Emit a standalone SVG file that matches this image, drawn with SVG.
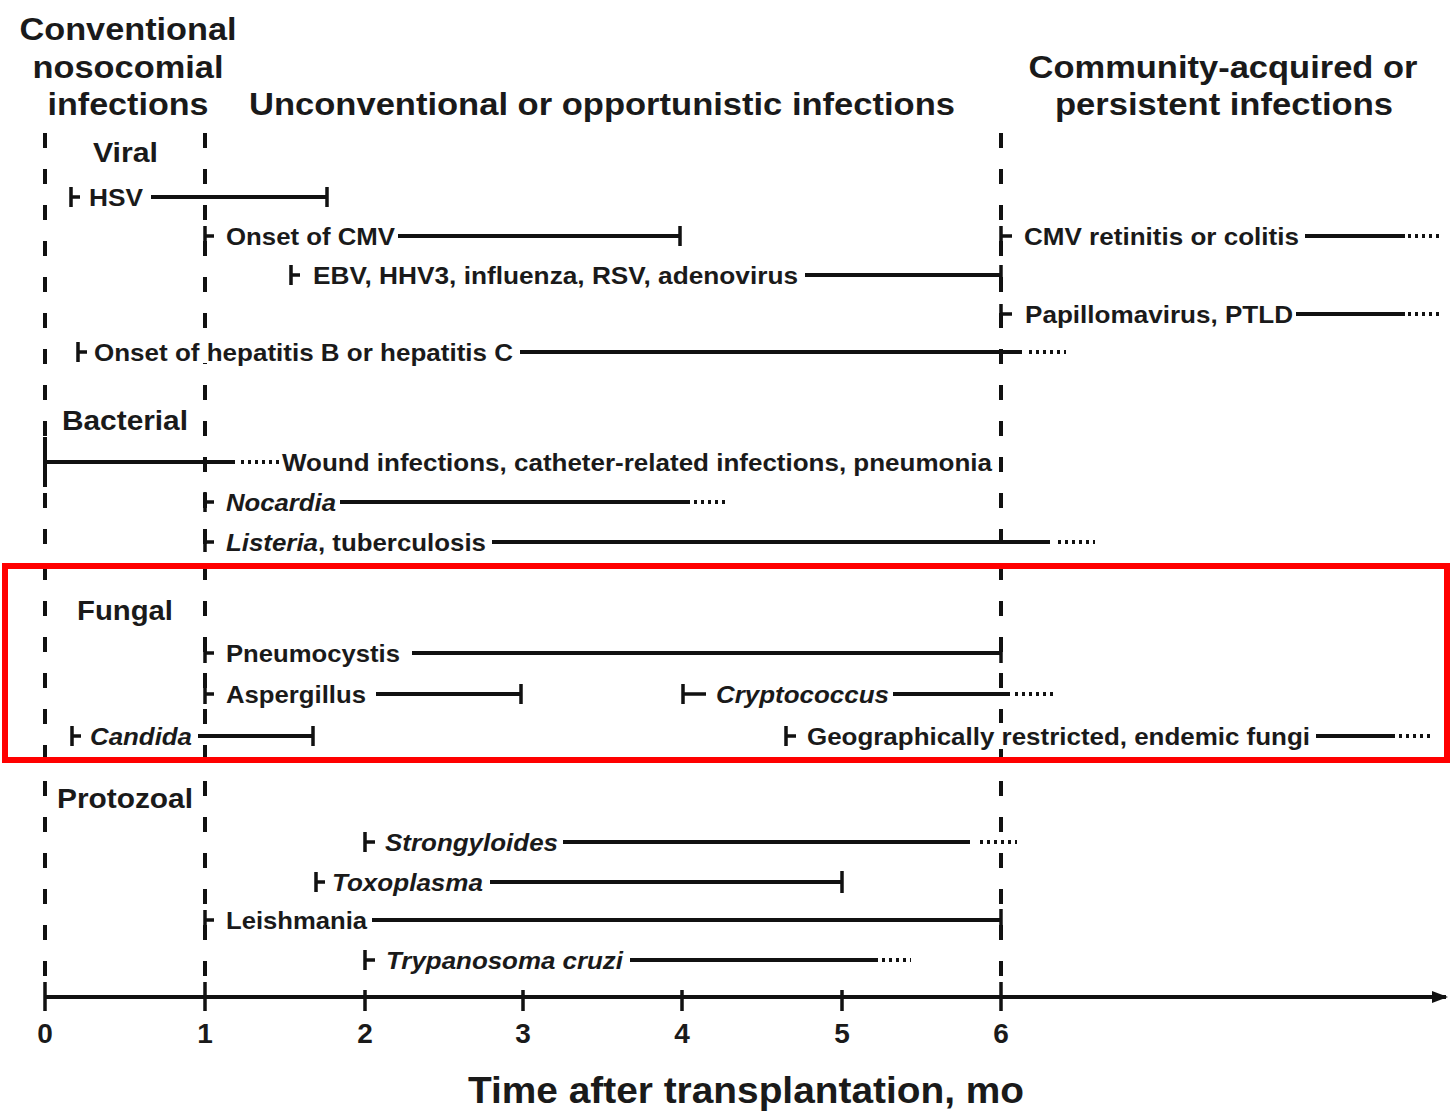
<svg xmlns="http://www.w3.org/2000/svg" width="1450" height="1116" viewBox="0 0 1450 1116">
<defs>
<style>
text{font-family:"Liberation Sans",Arial,sans-serif;font-weight:bold;fill:#1a1a1a}
.h{font-size:31px}
.c{font-size:28px}
.r{font-size:24px}
.t{font-size:28px;text-anchor:middle}
.i{font-style:italic}
.ln{stroke:#111;stroke-width:4;fill:none}
.tk{stroke:#111;stroke-width:3.5;fill:none}
.dot{stroke:#111;stroke-width:4;fill:none;stroke-dasharray:3 4}
.dash{stroke:#111;stroke-width:4;fill:none;stroke-dasharray:15 21}
</style>
<marker id="arr" viewBox="0 0 16 12" refX="14" refY="6" markerWidth="16" markerHeight="12" markerUnits="userSpaceOnUse" orient="auto">
<path d="M0,0 L16,6 L0,12 z" fill="#111"/>
</marker>
</defs>
<rect width="1450" height="1116" fill="#fff"/>

<g id="headers">
<text class="h" x="128" y="40" text-anchor="middle" textLength="217" lengthAdjust="spacingAndGlyphs">Conventional</text>
<text class="h" x="128" y="78" text-anchor="middle" textLength="191" lengthAdjust="spacingAndGlyphs">nosocomial</text>
<text class="h" x="128" y="115" text-anchor="middle" textLength="161" lengthAdjust="spacingAndGlyphs">infections</text>
<text class="h" x="249" y="115" textLength="706" lengthAdjust="spacingAndGlyphs">Unconventional or opportunistic infections</text>
<text class="h" x="1223" y="78" text-anchor="middle" textLength="389" lengthAdjust="spacingAndGlyphs">Community-acquired or</text>
<text class="h" x="1224" y="115" text-anchor="middle" textLength="338" lengthAdjust="spacingAndGlyphs">persistent infections</text>
</g>

<g id="categories">
<text class="c" x="93" y="162" textLength="65" lengthAdjust="spacingAndGlyphs">Viral</text>
<text class="c" x="62" y="430" textLength="126" lengthAdjust="spacingAndGlyphs">Bacterial</text>
<text class="c" x="77" y="620" textLength="96" lengthAdjust="spacingAndGlyphs">Fungal</text>
<text class="c" x="57" y="808" textLength="136" lengthAdjust="spacingAndGlyphs">Protozoal</text>
</g>

<g id="guides">
<line class="dash" x1="45" y1="133" x2="45" y2="985"/>
<line class="dash" x1="205" y1="133" x2="205" y2="985"/>
<line class="dash" x1="1001" y1="133" x2="1001" y2="985"/>
<rect x="199" y="339" width="12" height="24" fill="#fff"/>
<rect x="995" y="723" width="12" height="26" fill="#fff"/>
</g>

<g id="connectors">
<!-- HSV -->
<path class="tk" d="M71,187 V207 M71,197 H80"/>
<path class="ln" d="M151,197 H327"/><path class="tk" d="M327,187 V207"/>
<!-- Onset of CMV -->
<path class="tk" d="M205,226 V246 M205,236 H214"/>
<path class="ln" d="M398,236 H680"/><path class="tk" d="M680,226 V246"/>
<!-- EBV -->
<path class="tk" d="M291,265 V285 M291,275 H300"/>
<path class="ln" d="M805,275 H1001"/><path class="tk" d="M1001,265 V285"/>
<!-- CMV retinitis -->
<path class="tk" d="M1001,226 V246 M1001,236 H1012"/>
<path class="ln" d="M1305,236 H1405"/><path class="dot" d="M1408,236 H1443"/>
<!-- Papillomavirus -->
<path class="tk" d="M1001,304 V324 M1001,314 H1012"/>
<path class="ln" d="M1296,314 H1405"/><path class="dot" d="M1408,314 H1443"/>
<!-- Hepatitis -->
<path class="tk" d="M78,342 V362 M78,352 H87"/>
<path class="ln" d="M520,352 H1022"/><path class="dot" d="M1029,352 H1066"/>
<!-- Wound -->
<path class="ln" d="M45,437 V487 M45,462 H235"/><path class="dot" d="M241,462 H279"/>
<!-- Nocardia -->
<path class="tk" d="M205,492 V512 M205,502 H214"/>
<path class="ln" d="M340,502 H690"/><path class="dot" d="M694,502 H729"/>
<!-- Listeria -->
<path class="tk" d="M205,532 V552 M205,542 H214"/>
<path class="ln" d="M492,542 H1050"/><path class="dot" d="M1058,542 H1095"/>
<!-- Pneumocystis -->
<path class="tk" d="M205,643 V663 M205,653 H214"/>
<path class="ln" d="M412,653 H1001"/><path class="tk" d="M1001,643 V663"/>
<!-- Aspergillus -->
<path class="tk" d="M205,684 V704 M205,694 H214"/>
<path class="ln" d="M376,694 H521"/><path class="tk" d="M521,684 V704"/>
<!-- Cryptococcus -->
<path class="tk" d="M683,684 V704 M683,694 H706"/>
<path class="ln" d="M893,694 H1010"/><path class="dot" d="M1015,694 H1056"/>
<!-- Candida -->
<path class="tk" d="M72,726 V746 M72,736 H81"/>
<path class="ln" d="M198,736 H313"/><path class="tk" d="M313,726 V746"/>
<!-- Geographically -->
<path class="tk" d="M786,726 V746 M786,736 H796"/>
<path class="ln" d="M1316,736 H1395"/><path class="dot" d="M1399,736 H1431"/>
<!-- Strongyloides -->
<path class="tk" d="M365,832 V852 M365,842 H375"/>
<path class="ln" d="M563,842 H970"/><path class="dot" d="M980,842 H1017"/>
<!-- Toxoplasma -->
<path class="tk" d="M316,872 V892 M316,882 H325"/>
<path class="ln" d="M490,882 H842"/><path class="tk" d="M842,871 V893"/>
<!-- Leishmania -->
<path class="tk" d="M205,910 V930 M205,920 H214"/>
<path class="ln" d="M372,920 H1001"/><path class="tk" d="M1001,909 V931"/>
<!-- Trypanosoma -->
<path class="tk" d="M365,950 V970 M365,960 H375"/>
<path class="ln" d="M630,960 H878"/><path class="dot" d="M882,960 H911"/>
<!-- Axis -->
<path class="ln" d="M45,997 H1446" marker-end="url(#arr)"/>
<path class="tk" d="M45,982 V1011 M205,982 V1011 M365,990 V1011 M523,990 V1011 M682,990 V1011 M842,990 V1011 M1001,982 V1011"/>
</g>

<g id="labels">
<text class="r" x="89" y="206" textLength="54" lengthAdjust="spacingAndGlyphs">HSV</text>
<text class="r" x="226" y="245" textLength="169" lengthAdjust="spacingAndGlyphs">Onset of CMV</text>
<text class="r" x="313" y="284" textLength="485" lengthAdjust="spacingAndGlyphs">EBV, HHV3, influenza, RSV, adenovirus</text>
<text class="r" x="1024" y="245" textLength="275" lengthAdjust="spacingAndGlyphs">CMV retinitis or colitis</text>
<text class="r" x="1025" y="323" textLength="268" lengthAdjust="spacingAndGlyphs">Papillomavirus, PTLD</text>
<text class="r" x="94" y="361" textLength="419" lengthAdjust="spacingAndGlyphs">Onset of hepatitis B or hepatitis C</text>
<text class="r" x="282" y="471" textLength="710" lengthAdjust="spacingAndGlyphs">Wound infections, catheter-related infections, pneumonia</text>
<text class="r i" x="226" y="511" textLength="110" lengthAdjust="spacingAndGlyphs">Nocardia</text>
<text class="r" x="226" y="551" textLength="260" lengthAdjust="spacingAndGlyphs"><tspan class="i">Listeria</tspan>, tuberculosis</text>
<text class="r" x="226" y="662" textLength="174" lengthAdjust="spacingAndGlyphs">Pneumocystis</text>
<text class="r" x="226" y="703" textLength="140" lengthAdjust="spacingAndGlyphs">Aspergillus</text>
<text class="r i" x="716" y="703" textLength="173" lengthAdjust="spacingAndGlyphs">Cryptococcus</text>
<text class="r i" x="90" y="745" textLength="102" lengthAdjust="spacingAndGlyphs">Candida</text>
<text class="r" x="807" y="745" textLength="503" lengthAdjust="spacingAndGlyphs">Geographically restricted, endemic fungi</text>
<text class="r i" x="385" y="851" textLength="173" lengthAdjust="spacingAndGlyphs">Strongyloides</text>
<text class="r i" x="332" y="891" textLength="151" lengthAdjust="spacingAndGlyphs">Toxoplasma</text>
<text class="r" x="226" y="929" textLength="141" lengthAdjust="spacingAndGlyphs">Leishmania</text>
<text class="r i" x="386" y="969" textLength="237" lengthAdjust="spacingAndGlyphs">Trypanosoma cruzi</text>
</g>

<g id="axis-labels">
<text class="t" x="45" y="1043">0</text>
<text class="t" x="205" y="1043">1</text>
<text class="t" x="365" y="1043">2</text>
<text class="t" x="523" y="1043">3</text>
<text class="t" x="682" y="1043">4</text>
<text class="t" x="842" y="1043">5</text>
<text class="t" x="1001" y="1043">6</text>
<text x="468" y="1103" style="font-size:36px" textLength="556" lengthAdjust="spacingAndGlyphs">Time after transplantation, mo</text>
</g>

<g id="highlight">
<rect x="5" y="566" width="1442" height="194" fill="none" stroke="#ff0000" stroke-width="6"/>
</g>
</svg>
